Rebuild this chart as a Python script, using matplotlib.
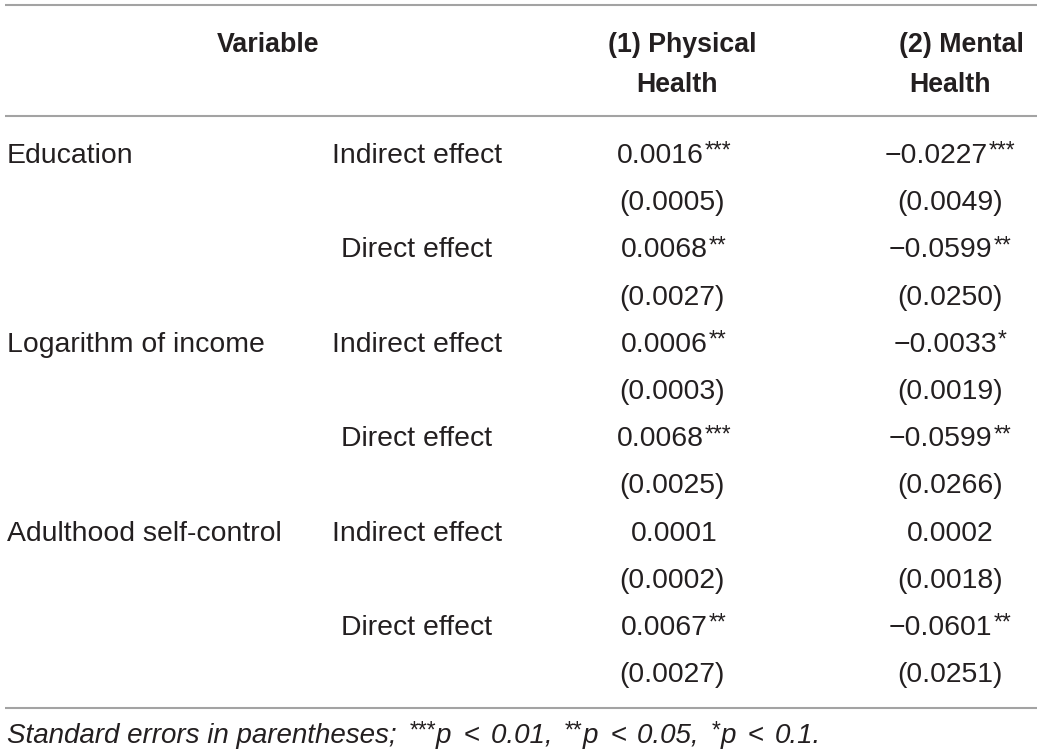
import matplotlib
matplotlib.use("Agg")
import matplotlib.pyplot as plt

# table content
variables = ["Education", "Logarithm of income", "Adulthood self-control"]
effects = ["Indirect effect", "Direct effect"]
headers = [["Variable"], ["(1) Physical", "Health"], ["(2) Mental", "Health"]]

phys_coef = ["0.0016", "0.0068", "0.0006", "0.0068", "0.0001", "0.0067"]
phys_stars = ["***", "**", "**", "***", "", "**"]
phys_se = ["0.0005", "0.0027", "0.0003", "0.0025", "0.0002", "0.0027"]

ment_coef = ["\u22120.0227", "\u22120.0599", "\u22120.0033", "\u22120.0599", "0.0002", "\u22120.0601"]
ment_stars = ["***", "**", "*", "**", "", "**"]
ment_se = ["0.0049", "0.0250", "0.0019", "0.0266", "0.0018", "0.0251"]

# footnote pieces: (text, kind) with kind "it", "sup" or "op"
note = [("Standard errors in parentheses; ", "it"), ("***", "sup"), ("p", "it"), ("<", "op"),
        ("0.01, ", "it"), ("**", "sup"), ("p", "it"), ("<", "op"),
        ("0.05, ", "it"), ("*", "sup"), ("p", "it"), ("<", "op"), ("0.1.", "it")]

font = "Liberation Sans"
fs = 20.4
bold_fs = 19.3
sup_fs = 16.5
txt_color = "#231f20"
rule_color = "#a3a3a3"

fig = plt.figure(figsize=(10.4, 7.56), dpi=100)
ax = fig.add_axes([0, 0, 1, 1])
ax.set_xlim(0, 1040)
ax.set_ylim(756, 0)
ax.axis("off")
renderer = fig.canvas.get_renderer()


def width(t):
    return t.get_window_extent(renderer).width


def runs(x, y, parts, ha="left", size=fs, sup_pad=1):
    # draw text pieces one after another, superscripts smaller and raised
    objs = []
    for s, kind in parts:
        sup = kind == "sup"
        t = ax.text(0, y - (5 if sup else 0), s, fontsize=sup_fs if sup else size,
                    family=font, style="italic" if kind == "it" else "normal",
                    color=txt_color, va="baseline", ha="left")
        if kind == "op":
            pad = (12, 11)
        elif sup and s:
            pad = (sup_pad, 0)
        else:
            pad = (0, 0)
        objs.append((t, pad))
    total = sum(width(t) + p[0] + p[1] for t, p in objs)
    cx = x - total / 2 if ha == "center" else x
    for t, p in objs:
        cx += p[0]
        t.set_x(cx)
        cx += width(t) + p[1]


# rules
for y in [5, 116, 708]:
    ax.plot([5, 1037], [y, y], color=rule_color, lw=1.5, solid_capstyle="butt")

# header
head_x = [[268], [682, 677], [961, 950]]
for xs, lines in zip(head_x, headers):
    for i, line in enumerate(lines):
        ax.text(xs[i], 52 + i * 40, line, fontsize=bold_fs, family=font, weight="bold",
                color=txt_color, ha="center", va="baseline")

# body
x_var, x_eff, x_phys, x_ment = 7, 417, 674, 950
y0, dy = 163, 47.2
for i in range(len(phys_coef)):
    y_coef = y0 + 2 * i * dy
    y_se = y_coef + dy
    if i % 2 == 0:
        ax.text(x_var, y_coef, variables[i // 2], fontsize=fs, family=font,
                color=txt_color, ha="left", va="baseline")
    ax.text(x_eff, y_coef, effects[i % 2], fontsize=fs, family=font,
            color=txt_color, ha="center", va="baseline")
    runs(x_phys, y_coef, [(phys_coef[i], "rm"), (phys_stars[i], "sup")], ha="center")
    runs(x_ment, y_coef, [(ment_coef[i], "rm"), (ment_stars[i], "sup")], ha="center")
    ax.text(x_phys - 2, y_se, "(" + phys_se[i] + ")", fontsize=fs, family=font,
            color=txt_color, ha="center", va="baseline")
    ax.text(x_ment, y_se, "(" + ment_se[i] + ")", fontsize=fs, family=font,
            color=txt_color, ha="center", va="baseline")

# footnote
runs(7, 743, note, size=20, sup_pad=5)

fig.savefig("out.png", dpi=100)
